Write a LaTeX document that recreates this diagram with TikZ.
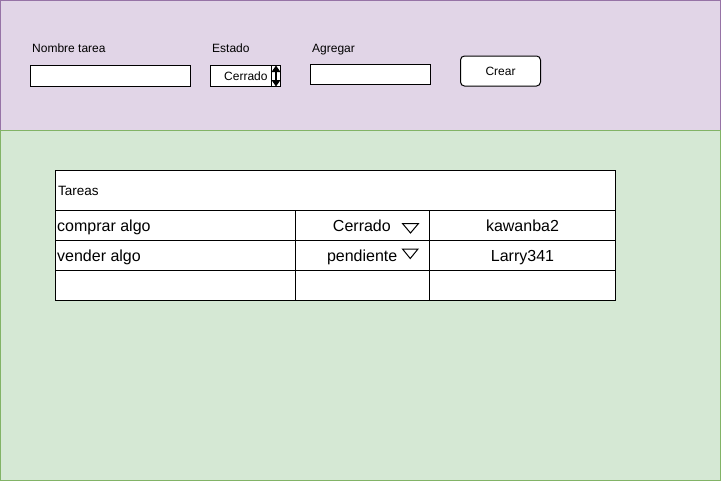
\documentclass[tikz,border=0pt]{standalone}
\usepackage{fontspec}
\setmainfont{Liberation Sans}
\definecolor{pfill}{HTML}{E1D5E7}
\definecolor{pline}{HTML}{9673A6}
\definecolor{gfill}{HTML}{D5E8D4}
\definecolor{gline}{HTML}{82B366}
\begin{document}
\begin{tikzpicture}[x=1pt,y=-1pt,
  lbl/.style={anchor=base west,inner sep=0pt,font=\fontsize{12}{14}\selectfont},
  field/.style={draw=black,fill=white,line width=1pt},
  cell/.style={draw=black,fill=white,line width=1pt},
  celltext/.style={inner sep=0pt,font=\fontsize{16}{19}\selectfont},
  tri/.style={draw=black,line width=1pt,fill=white}]
\useasboundingbox (0,0) rectangle (721,482);
% panels
\path[fill=pfill,draw=pline,line width=1pt] (0.5,0.5) rectangle (720.5,130.5);
\path[fill=gfill,draw=gline,line width=1pt] (0.5,130.5) rectangle (720.5,480.5);
% form
\node[lbl] (lnombre) at (32,52.8) {Nombre tarea};
\node[field,minimum width=160pt,minimum height=21pt,inner sep=0pt] (fnombre) at (110.5,75.5) {};
\node[lbl] (lestado) at (212,52.8) {Estado};
\node[field,minimum width=70pt,minimum height=21pt,inner sep=0pt] (festado) at (245.5,76) {};
\node[lbl] (vestado) at (224,80.2) {Cerrado};
\draw[line width=1pt] (271,65.5) -- (271,86.5);
\fill (276,65.5) -- (280.5,72) -- (271.5,72) -- cycle;
\fill (276,86.5) -- (280.5,80) -- (271.5,80) -- cycle;
\draw[line width=1.5pt] (276,70) -- (276,82);
\node[lbl] (lagregar) at (312,52.8) {Agregar};
\node[field,minimum width=120pt,minimum height=20pt,inner sep=0pt] (fagregar) at (370.5,74.5) {};
\node[field,rounded corners=4pt,minimum width=80pt,minimum height=30pt,inner sep=0pt,font=\fontsize{12}{14}\selectfont] (crear) at (500.5,71) {Crear};
% table
\node[cell,minimum width=560pt,minimum height=40pt,inner sep=0pt] (head) at (335.5,190.5) {};
\node[inner sep=0pt,anchor=base west,font=\fontsize{13.5}{16}\selectfont] (tareas) at (58,195.3) {Tareas};
\foreach \r/\y in {1/225.5,2/255.5,3/285.5}{
  \node[cell,minimum width=240pt,minimum height=30pt,inner sep=0pt] (c\r a) at (175.5,\y) {};
  \node[cell,minimum width=134pt,minimum height=30pt,inner sep=0pt] (c\r b) at (362.5,\y) {};
  \node[cell,minimum width=186pt,minimum height=30pt,inner sep=0pt] (c\r c) at (522.5,\y) {};
}
\node[celltext,anchor=base west] (t1a) at (57,231.3) {comprar algo};
\node[celltext,anchor=base east] (t1b) at (391,231.3) {Cerrado};
\node[celltext,anchor=base] (t1c) at (522.5,231.3) {kawanba2};
\node[celltext,anchor=base west] (t2a) at (57,261.3) {vender algo};
\node[celltext,anchor=base east] (t2b) at (397.5,261.3) {pendiente};
\node[celltext,anchor=base] (t2c) at (522.5,261.3) {Larry341};
\draw[tri] (402.5,223.5) -- (418.5,223.5) -- (410.5,233) -- cycle;
\draw[tri] (402.5,249) -- (418,249) -- (410.25,258.5) -- cycle;
\end{tikzpicture}
\end{document}
